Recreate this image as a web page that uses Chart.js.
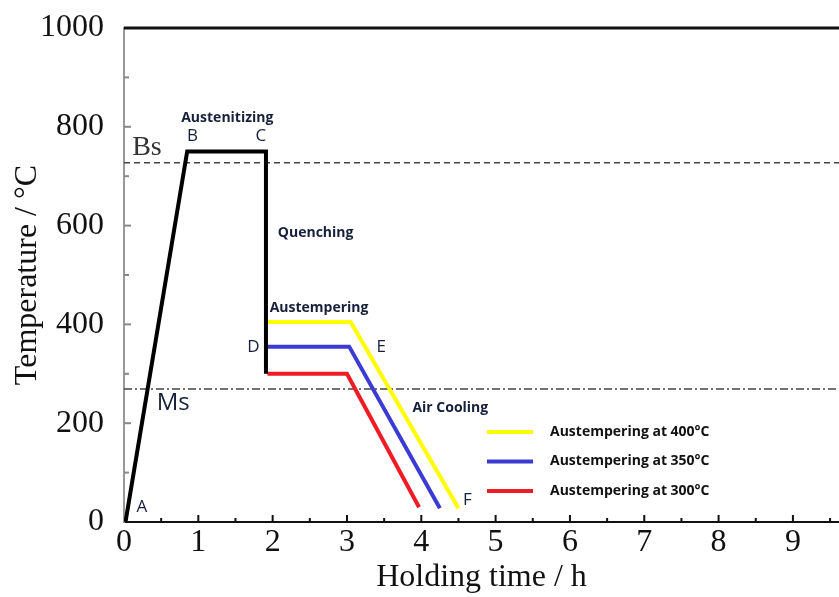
<!DOCTYPE html>
<html>
<head>
<title>Austempering heat treatment</title>
<script src="https://cdn.jsdelivr.net/npm/chart.js"></script>
<style>
  body { margin: 0; background: #fff; }
  #wrap { width: 839px; height: 597px; }
</style>
</head>
<body>
<div id="wrap"><canvas id="chart"></canvas></div>
<script>
// tick values
const xTicks = [0, 1, 2, 3, 4, 5, 6, 7, 8, 9];
const yTicks = [0, 200, 400, 600, 800, 1000];

// heating, austenitizing and quenching path (A-B-C-D)
const heatTime = [0.02, 0.85, 1.91, 1.91];
const heatTemp = [0, 750, 750, 300];

// austempering + air cooling paths (D-E-F)
const time400 = [1.93, 3.05, 4.50];
const temp400 = [405, 405, 28];
const time350 = [1.93, 3.03, 4.25];
const temp350 = [355, 355, 28];
const time300 = [1.93, 3.00, 3.97];
const temp300 = [300, 300, 30];

// transformation temperatures
const bsTemp = 727;
const msTemp = 269;

const seriesNames = ['Austempering at 400\u00B0C', 'Austempering at 350\u00B0C', 'Austempering at 300\u00B0C'];
const seriesColors = ['#ffff00', '#3b3bd4', '#ee1c25'];

// text labels on the diagram, placed in data units
const notes = [
  { text: 'Austenitizing', x: 1.39, y: 818, font: 'bold 14px "Open Sans"', align: 'center' },
  { text: 'B', x: 0.92, y: 781, font: '17px "Open Sans"', align: 'center' },
  { text: 'C', x: 1.84, y: 781, font: '17px "Open Sans"', align: 'center' },
  { text: 'Bs', x: 0.11, y: 757, font: '28px "Liberation Serif"', align: 'left', color: '#333' },
  { text: 'Quenching', x: 2.07, y: 585, font: 'bold 14px "Open Sans"', align: 'left' },
  { text: 'Austempering', x: 1.96, y: 433, font: 'bold 14px "Open Sans"', align: 'left' },
  { text: 'D', x: 1.74, y: 354, font: '17px "Open Sans"', align: 'center' },
  { text: 'E', x: 3.46, y: 354, font: '17px "Open Sans"', align: 'center' },
  { text: 'Ms', x: 0.44, y: 241, font: '24px "Open Sans"', align: 'left' },
  { text: 'Air Cooling', x: 3.88, y: 231, font: 'bold 14px "Open Sans"', align: 'left' },
  { text: 'F', x: 4.62, y: 45, font: '17px "Open Sans"', align: 'center' },
  { text: 'A', x: 0.24, y: 30, font: '17px "Open Sans"', align: 'center' }
];

const zip = (xs, ys) => xs.map((x, i) => ({ x: x, y: ys[i] }));
const X_MAX = 9.62;

const pathStyle = (color) => ({
  borderColor: color, borderWidth: 4, pointRadius: 0,
  showLine: true, fill: false, tension: 0, borderJoinStyle: 'miter'
});

const datasets = [
  Object.assign({ data: zip(heatTime, heatTemp) }, pathStyle('#000')),
  Object.assign({ data: zip(time400, temp400) }, pathStyle(seriesColors[0])),
  Object.assign({ data: zip(time350, temp350) }, pathStyle(seriesColors[1])),
  Object.assign({ data: zip(time300, temp300) }, pathStyle(seriesColors[2])),
  { data: [{ x: 0, y: bsTemp }, { x: X_MAX, y: bsTemp }], borderColor: '#444', borderWidth: 1.5,
    borderDash: [6, 4], pointRadius: 0, showLine: true, order: 1 },
  { data: [{ x: 0, y: msTemp }, { x: X_MAX, y: msTemp }], borderColor: '#444', borderWidth: 1.5,
    borderDash: [8, 3, 2, 3], pointRadius: 0, showLine: true, order: 1 }
];

const decorPlugin = {
  id: 'decor',
  afterDraw(chart) {
    const ctx = chart.ctx;
    const xs = chart.scales.x, ys = chart.scales.y;
    const area = chart.chartArea;
    ctx.save();

    // inward tick marks
    ctx.lineWidth = 2;
    ctx.strokeStyle = '#111';
    for (let v = 0.5; v < X_MAX; v += 0.5) {
      const px = xs.getPixelForValue(v);
      const len = Number.isInteger(v) ? 7 : 4;
      ctx.beginPath(); ctx.moveTo(px, area.bottom); ctx.lineTo(px, area.bottom - len); ctx.stroke();
    }
    ctx.strokeStyle = '#888';
    for (let v = 100; v < 1000; v += 100) {
      const py = ys.getPixelForValue(v);
      const len = v % 200 === 0 ? 7 : 5;
      ctx.beginPath(); ctx.moveTo(area.left, py); ctx.lineTo(area.left + len, py); ctx.stroke();
    }

    // top frame line
    ctx.strokeStyle = '#111';
    ctx.lineWidth = 3;
    ctx.beginPath(); ctx.moveTo(area.left, area.top); ctx.lineTo(area.right, area.top); ctx.stroke();

    // labels
    ctx.textBaseline = 'middle';
    notes.forEach(n => {
      ctx.font = n.font;
      ctx.fillStyle = n.color || '#16203a';
      ctx.textAlign = n.align;
      ctx.fillText(n.text, xs.getPixelForValue(n.x), ys.getPixelForValue(n.y));
    });

    // legend
    const lx = 487, ly = 432, gap = 29.5;
    seriesNames.forEach((name, i) => {
      const y = ly + i * gap;
      ctx.strokeStyle = seriesColors[i];
      ctx.lineWidth = 4;
      ctx.beginPath(); ctx.moveTo(lx, y); ctx.lineTo(lx + 46, y); ctx.stroke();
      ctx.font = 'bold 14px "Open Sans"';
      ctx.fillStyle = '#111';
      ctx.textAlign = 'left';
      ctx.fillText(name, lx + 63, y);
    });
    ctx.restore();
  }
};

new Chart(document.getElementById('chart'), {
  type: 'scatter',
  data: { datasets: datasets },
  options: {
    responsive: true,
    maintainAspectRatio: false,
    animation: false,
    layout: { padding: { top: 28, right: 0, left: 0, bottom: 0 } },
    plugins: { legend: { display: false }, tooltip: { enabled: false } },
    scales: {
      x: {
        type: 'linear', min: 0, max: X_MAX,
        afterFit: s => { s.height = 75; s.paddingLeft = 0; s.paddingRight = 0; },
        afterBuildTicks: s => { s.ticks = xTicks.map(v => ({ value: v })); },
        grid: { display: false },
        border: { display: true, color: '#111', width: 2 },
        ticks: { color: '#111', padding: -7, font: { family: 'Liberation Serif', size: 32 },
                 callback: v => String(v) },
        title: { display: true, text: 'Holding time / h', color: '#111',
                 font: { family: 'Liberation Serif', size: 32 }, padding: { top: 0, bottom: 0 } }
      },
      y: {
        type: 'linear', min: 0, max: 1000,
        afterFit: s => { s.width = 124; s.paddingTop = 0; s.paddingBottom = 0; },
        afterBuildTicks: s => { s.ticks = yTicks.map(v => ({ value: v })); },
        grid: { display: false },
        border: { display: true, color: '#999', width: 2 },
        ticks: { color: '#111', padding: 12, font: { family: 'Liberation Serif', size: 32 },
                 callback: v => String(v) },
        title: { display: true, text: 'Temperature / \u00B0C', color: '#111',
                 font: { family: 'Liberation Serif', size: 32 }, padding: { top: 8, bottom: 0 } }
      }
    }
  },
  plugins: [decorPlugin]
});
</script>
</body>
</html>
